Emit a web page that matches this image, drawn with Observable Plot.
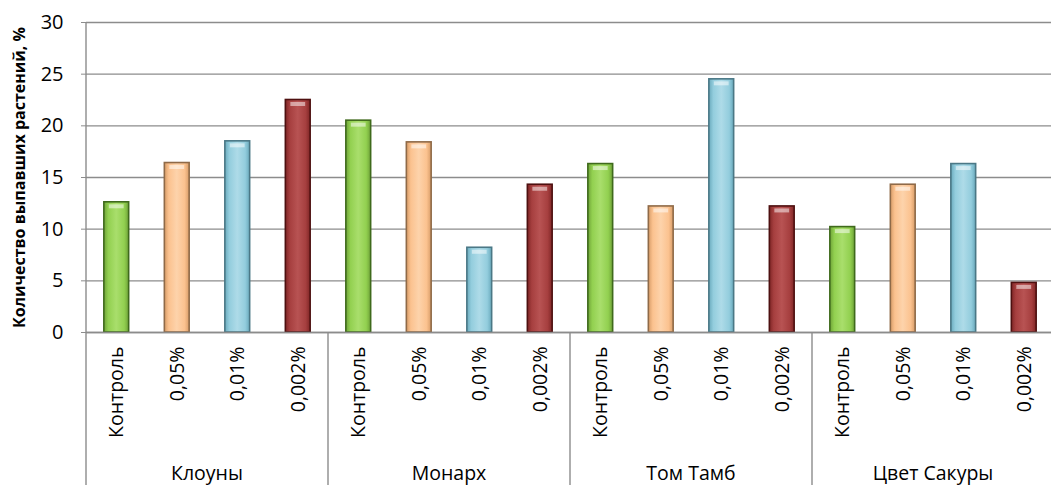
<!DOCTYPE html>
<html>
<head>
<meta charset="utf-8">
<script src="https://cdn.jsdelivr.net/npm/d3@7"></script>
<script src="https://cdn.jsdelivr.net/npm/@observablehq/plot@0.6"></script>
<style>
  body { margin: 0; background: #fff; }
  #chart svg { display: block; font-family: "Open Sans", "Noto Sans", sans-serif; background: #fff; }
</style>
</head>
<body>
<div id="chart"></div>
<script>
// Varieties (outer groups) and treatments (bars inside each group)
const varieties = ["Клоуны", "Монарх", "Том Тамб", "Цвет Сакуры"];
const treatments = ["Контроль", "0,05%", "0,01%", "0,002%"];

// Share of fallen plants, %, per treatment in the order above
const klouny = [12.6, 16.4, 18.5, 22.5];
const monarkh = [20.5, 18.4, 8.2, 14.3];
const tomTamb = [16.3, 12.2, 24.5, 12.2];
const tsvetSakury = [10.2, 14.3, 16.3, 4.8];

const yTicks = [0, 5, 10, 15, 20, 25, 30];
const yTitle = "Количество выпавших растений, %";

// Bar colours per treatment: body, lighter centre, darker edge, outline
const bodyColors  = ["#92d050", "#fbc28f", "#93cddd", "#a63f3f"];
const lightColors = ["#a9de6c", "#fdd3ab", "#aedbe8", "#b85353"];
const edgeColors  = ["#6fa338", "#d79c68", "#6aaabd", "#7f2626"];
const lineColors  = ["#3f6a1c", "#8f6a48", "#4b7886", "#4e1010"];

const seriesByVariety = [klouny, monarkh, tomTamb, tsvetSakury];
const rows = varieties.flatMap((v, i) =>
  treatments.map((t, j) => ({
    variety: v,
    treatment: t,
    ti: j,
    key: `${v}|${t}`,
    value: seriesByVariety[i][j]
  }))
);
const keys = rows.map(d => d.key);

const grid = "#8c8c8c";

const plot = Plot.plot({
  width: 1051,
  height: 485,
  marginTop: 22,
  marginBottom: 153,
  marginLeft: 86,
  marginRight: -3,
  style: { fontFamily: "'Open Sans', 'Noto Sans', sans-serif", color: "#000" },
  x: { domain: keys, paddingInner: 0.59, paddingOuter: 0.295, round: false, axis: null },
  y: { domain: [0, 30], axis: null },
  marks: [
    Plot.gridY(yTicks, { stroke: grid, strokeOpacity: 1, strokeWidth: 1.4 }),
    Plot.axisY(yTicks, {
      tickSize: 5, tickPadding: 18, fontSize: 20, stroke: grid, label: null
    }),
    Plot.axisX(keys, {
      tickFormat: k => k.split("|")[1],
      tickRotate: -90, tickSize: 0, tickPadding: 14, fontSize: 19.5, label: null
    }),
    ...treatments.map((t, j) =>
      Plot.barY(rows.filter(d => d.ti === j), {
        x: "key", y: "value",
        fill: `url(#bar-grad-${j})`,
        stroke: lineColors[j], strokeWidth: 1.6
      })
    ),
    // bevel highlight along the top of each bar
    Plot.tickY(rows, {
      x: "key", y: "value", stroke: "#ffffff", strokeOpacity: 0.5,
      strokeWidth: 4, dy: 4, inset: 5
    }),
    Plot.ruleY([0], { stroke: grid, strokeWidth: 1.4 }),
    Plot.text([yTitle], {
      frameAnchor: "left", text: d => d, rotate: -90, dx: -67,
      textAnchor: "middle",
      fontSize: 16, fontWeight: "bold", fill: "#000"
    })
  ]
});

const svg = d3.select(plot);

// horizontal gradients giving the bars a rounded, bevelled look
const defs = svg.insert("defs", ":first-child");
treatments.forEach((t, j) => {
  const g = defs.append("linearGradient")
    .attr("id", `bar-grad-${j}`)
    .attr("x1", "0").attr("x2", "1").attr("y1", "0").attr("y2", "0");
  [[0, edgeColors[j]], [0.18, bodyColors[j]], [0.5, lightColors[j]],
   [0.82, bodyColors[j]], [1, edgeColors[j]]].forEach(([o, c]) =>
    g.append("stop").attr("offset", o).attr("stop-color", c));
});

// group separators below the axis and the variety labels
const xs = plot.scale("x");
const ys = plot.scale("y");
const half = (xs.step - xs.bandwidth) / 2;
const y0 = ys.apply(0);
const yTop = ys.apply(30);
const bottom = 485;
const layer = svg.append("g").attr("stroke", grid).attr("stroke-width", 1.4);
varieties.forEach((v, i) => {
  const first = xs.apply(`${v}|${treatments[0]}`) - half;
  const last = xs.apply(`${v}|${treatments[treatments.length - 1]}`) + xs.bandwidth + half;
  layer.append("line")
    .attr("x1", first).attr("x2", first)
    .attr("y1", i === 0 ? yTop : y0).attr("y2", bottom);
  svg.append("text")
    .attr("x", (first + last) / 2)
    .attr("y", 475)
    .attr("text-anchor", "middle")
    .attr("dominant-baseline", "middle")
    .attr("font-size", 19.5)
    .attr("fill", "#000")
    .text(v);
});

document.getElementById("chart").appendChild(plot);
</script>
</body>
</html>
